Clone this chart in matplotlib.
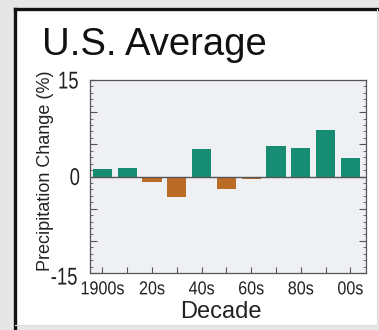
import matplotlib
matplotlib.use("Agg")
import matplotlib.pyplot as plt
from matplotlib.lines import Line2D
from matplotlib.patches import Rectangle
from matplotlib.patheffects import AbstractPathEffect
from matplotlib.transforms import Affine2D
from matplotlib.ticker import MultipleLocator, FixedLocator, FixedFormatter

# Decadal precipitation change, U.S. average (%)
decades = ["1900s", "10s", "20s", "30s", "40s", "50s", "60s", "70s", "80s", "90s", "00s"]
change = [1.2, 1.3, -0.8, -3.2, 4.3, -1.9, -0.4, 4.8, 4.5, 7.3, 2.9]
shown_labels = ["1900s", "", "20s", "", "40s", "", "60s", "", "80s", "", "00s"]
y_labels = {0: "0", 15: "15"}
y_bottom_label = "-15"

WET = "#168c72"
DRY = "#bb6b26"

plt.rcParams["font.family"] = ["Liberation Sans", "DejaVu Sans"]


class Condense(AbstractPathEffect):
    """Squeeze glyphs horizontally about their own centre (narrow-face look)."""

    def __init__(self, sx):
        super().__init__()
        self.sx = sx

    def draw_path(self, renderer, gc, tpath, affine, rgbFace=None):
        ext = tpath.get_extents()
        cx = 0.5 * (ext.x0 + ext.x1)
        squeeze = Affine2D().translate(-cx, 0).scale(self.sx, 1).translate(cx, 0)
        renderer.draw_path(gc, tpath, squeeze + affine, rgbFace)


W, H = 379, 330
fig = plt.figure(figsize=(W / 100, H / 100), dpi=100)
fig.patch.set_facecolor("#e6e6e6")


def fx(px):
    return px / W


def fy(py):
    return 1 - py / H


# white card with a dark top/left edge
fig.patches.append(Rectangle((fx(14.5), fy(325)), fx(377) - fx(14.5), fy(8.5) - fy(325),
                             transform=fig.transFigure, facecolor="white", edgecolor="none", zorder=-5))
fig.lines.append(Line2D([fx(14.5), fx(14.5)], [fy(8.5), fy(330)], transform=fig.transFigure,
                        color="#111111", lw=2.4, zorder=-4))
fig.lines.append(Line2D([fx(14.5), fx(379)], [fy(8.5), fy(8.5)], transform=fig.transFigure,
                        color="#111111", lw=2.4, zorder=-4))
fig.lines.append(Line2D([fx(377), fx(377)], [fy(9), fy(325)], transform=fig.transFigure,
                        color="#dddddd", lw=0.8, zorder=-4))
fig.lines.append(Line2D([fx(15), fx(377)], [fy(325), fy(325)], transform=fig.transFigure,
                        color="#dddddd", lw=0.8, zorder=-4))

ax = fig.add_axes([fx(90), fy(273), fx(366) - fx(90), fy(80) - fy(273)])
ax.set_zorder(2)
ax.set_facecolor("#eef0f3")

x = list(range(len(decades)))
colors = [WET if v >= 0 else DRY for v in change]
ax.bar(x, change, width=0.77, color=colors, zorder=2)
ax.axhline(0, color="#555555", lw=1.0, zorder=3)

ax.set_xlim(-0.5, 10.63)
ax.set_ylim(-15, 15)

ax.xaxis.set_major_locator(FixedLocator(x))
ax.xaxis.set_major_formatter(FixedFormatter(shown_labels))
ax.yaxis.set_major_locator(MultipleLocator(5))
ax.yaxis.set_minor_locator(MultipleLocator(1))
ax.yaxis.set_major_formatter(plt.FuncFormatter(lambda v, p: y_labels.get(int(round(v)), "")))

ax.tick_params(axis="x", direction="in", length=4, width=0.8, color="#555555",
               pad=6, labelsize=13.5, labelcolor="#222222")
ax.tick_params(axis="y", which="major", direction="in", length=5, width=0.8, color="#555555",
               left=True, right=True, pad=6, labelsize=17.5, labelcolor="#222222")
ax.tick_params(axis="y", which="minor", direction="in", length=2.5, width=0.6, color="#555555",
               left=True, right=True)
for lab in ax.get_xticklabels():
    lab.set_path_effects([Condense(0.86)])
for lab in ax.get_yticklabels():
    lab.set_path_effects([Condense(0.76)])

# the lowest y label sits a little below the axis corner
ax.annotate(y_bottom_label, xy=(0, -15), xycoords=ax.get_yaxis_transform(),
            xytext=(-6, -4), textcoords="offset points", ha="right", va="center",
            fontsize=17.5, color="#222222", path_effects=[Condense(0.76)], annotation_clip=False)

for s in ax.spines.values():
    s.set_color("#555555")
    s.set_linewidth(0.9)

fig.text(fx(42), fy(55), "U.S. Average", fontsize=27.5, ha="left", va="baseline", color="#111111")
fig.text(fx(46), fy(171), "Precipitation Change (%)", fontsize=13, rotation=90,
         ha="center", va="center", color="#222222")
fig.text(fx(221), fy(318), "Decade", fontsize=17, ha="center", va="baseline", color="#222222")

fig.savefig("out.png", dpi=100, facecolor=fig.get_facecolor())
